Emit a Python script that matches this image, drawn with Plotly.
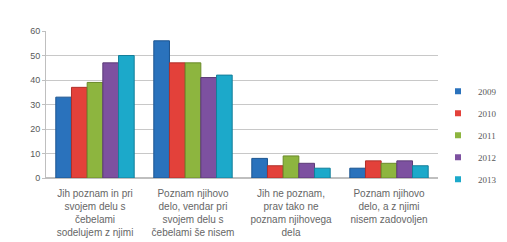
import plotly.graph_objects as go

categories = [
    "Jih poznam in pri<br>svojem delu s<br>čebelami<br>sodelujem z njimi",
    "Poznam njihovo<br>delo, vendar pri<br>svojem delu s<br>čebelami še nisem",
    "Jih ne poznam,<br>prav tako ne<br>poznam njihovega<br>dela",
    "Poznam njihovo<br>delo, a z njimi<br>nisem zadovoljen",
]
years = ["2009", "2010", "2011", "2012", "2013"]
v2009 = [33, 56, 8, 4]
v2010 = [37, 47, 5, 7]
v2011 = [39, 47, 9, 6]
v2012 = [47, 41, 6, 7]
v2013 = [50, 42, 4, 5]
series = [v2009, v2010, v2011, v2012, v2013]
colors = ["#2A72BC", "#E3413A", "#8DB53F", "#7D51A0", "#1CA9CA"]
line_colors = ["#1C5590", "#B0302A", "#6A8A2A", "#5C3A76", "#147F9A"]

fig = go.Figure()
for y, vals, c, lc in zip(years, series, colors, line_colors):
    fig.add_trace(go.Bar(
        name=y, x=categories, y=vals, showlegend=False,
        marker=dict(color=c, line=dict(color=lc, width=1)),
    ))
# legend entries with small square keys
for y, c in zip(years, colors):
    fig.add_trace(go.Scatter(
        name=y, x=[None], y=[None], mode="markers", legendgroup=y,
        marker=dict(symbol="square", size=6, color=c),
    ))

fig.update_layout(
    width=507, height=242,
    barmode="group", bargap=0.2, bargroupgap=0,
    paper_bgcolor="white", plot_bgcolor="white",
    margin=dict(l=38, r=77, t=23, b=67),
    font=dict(family="Liberation Sans, Arial, sans-serif", size=9, color="#595959"),
    legend=dict(x=1.0, y=0.29, xanchor="left", yanchor="middle",
                font=dict(family="Liberation Serif, serif", size=9, color="#595959"),
                tracegroupgap=3, itemwidth=30, bgcolor="rgba(0,0,0,0)"),
    yaxis=dict(range=[0, 60], dtick=10, showgrid=True, gridcolor="#C8C8C8",
               gridwidth=1, zeroline=True, zerolinecolor="#BFBFBF",
               showline=True, linecolor="#BFBFBF", ticks="outside", ticklen=3,
               tickcolor="#BFBFBF", tickfont=dict(size=9, color="#595959")),
    xaxis=dict(showline=True, linecolor="#BFBFBF", tickangle=0,
               tickfont=dict(size=10, color="#666666"), ticklabelstandoff=6),
)

fig.write_html("out.html")
